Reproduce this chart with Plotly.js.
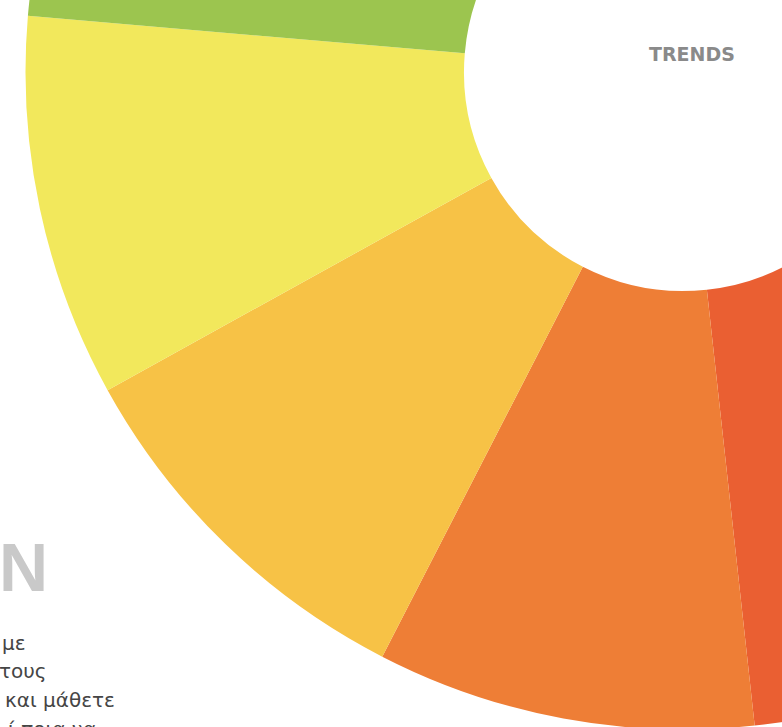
<!DOCTYPE html>
<html>
<head>
<meta charset="utf-8">
<script src="https://cdn.plot.ly/plotly-3.0.1.min.js"></script>
<style>
  html, body { margin: 0; padding: 0; width: 782px; height: 727px; overflow: hidden; background: #ffffff; }
  #chart { position: absolute; left: 0px; top: -611px; width: 1366px; height: 1366px; }
</style>
</head>
<body>
<div id="chart"></div>
<script>
// Slices in clockwise order (share of the ring, %)
const categories = ["Red", "Orange", "Light orange", "Yellow", "Green", "Teal", "Blue", "Indigo", "Purple", "Magenta", "Crimson"];
const values = [9.4, 9.3, 9.4, 9.4, 9.4, 9.4, 9.4, 9.4, 9.4, 9.4, 6.1];
const colors = ["#EA5F32", "#EE7E36", "#F7C246", "#F2E85C", "#9CC54F", "#3FB39A", "#3C8CC8", "#4B5AA8", "#7A4A9C", "#B8408A", "#D8343F"];

// Texts visible on the cropped page
const titleText = "TRENDS";
const bigLetter = "N";
const bodyLines = ["με", "τους", "και μάθετε", "ί ποια να"];

const W = 1366, H = 1366, TOP = -611;
const px = x => x / W;
const py = y => 1 - (y - TOP) / H;

const R = 657.5;
const trace = {
  type: "pie",
  labels: categories,
  values: values,
  marker: { colors: colors, line: { width: 0 } },
  hole: 219 / 657.5,
  sort: false,
  direction: "clockwise",
  rotation: 139.9,
  textinfo: "none",
  hoverinfo: "none",
  showlegend: false,
  domain: { x: [0.5 - R / W, 0.5 + R / W], y: [0.5 - R / H, 0.5 + R / H] }
};

const bodyRight = [28, 49, 117, 98];
const bodyBase = [648, 676, 705, 734];

const annotations = [
  {
    text: titleText, xref: "paper", yref: "paper",
    x: px(692), y: py(54), xanchor: "center", yanchor: "middle",
    showarrow: false,
    font: { family: "DejaVu Sans", size: 19, weight: 700, color: "#8A8A8A" }
  },
  {
    text: bigLetter, xref: "paper", yref: "paper",
    x: px(-3), y: py(567), xanchor: "left", yanchor: "middle",
    showarrow: false,
    font: { family: "Liberation Sans", size: 68, weight: 700, color: "#C9C9C9" }
  }
];
bodyLines.forEach((t, i) => {
  annotations.push({
    text: t, xref: "paper", yref: "paper",
    x: px(bodyRight[i]), y: py(bodyBase[i] - 5), xanchor: "right", yanchor: "middle",
    showarrow: false,
    font: { family: "DejaVu Sans", size: 20, weight: 400, color: "#454545" }
  });
});

const layout = {
  width: W, height: H,
  margin: { l: 0, r: 0, t: 0, b: 0 },
  paper_bgcolor: "#ffffff",
  plot_bgcolor: "#ffffff",
  showlegend: false,
  annotations: annotations
};

Plotly.newPlot("chart", [trace], layout, { staticPlot: true, displayModeBar: false });
</script>
</body>
</html>
